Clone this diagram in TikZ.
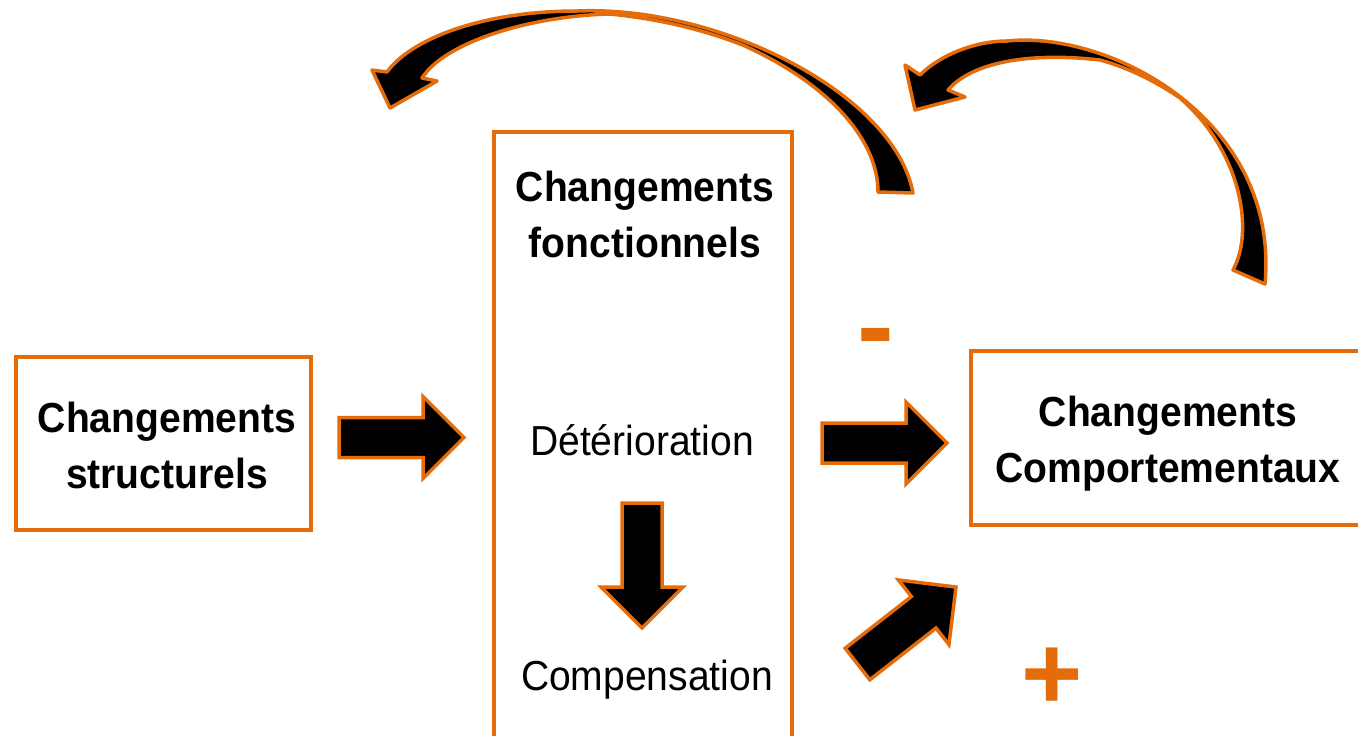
\documentclass[tikz,border=0pt]{standalone}
\usepackage{fontspec}
\setmainfont{Liberation Sans}[FakeStretch=0.93]
\newfontfamily\signfont{Liberation Sans}
\definecolor{orng}{HTML}{E46C0A}
\tikzset{
  box/.style={draw=orng, line width=4.5pt, inner sep=0pt},
  lbl/.style={font=\fontsize{42}{56}\selectfont\bfseries, align=center, anchor=base, inner sep=0pt},
  plainlbl/.style={font=\fontsize{42}{56}\selectfont, anchor=base, inner sep=0pt},
  blk/.style={draw=orng, fill=black, line width=3.5pt, line join=miter},
  curv/.style={draw=orng, fill=black, line width=3.5pt, line join=round},
  sign/.style={text=orng, anchor=base, inner sep=0pt},
  blockarrow/.pic={\path[blk] (0,-20) -- (84,-20) -- (84,-41) -- (125,0) -- (84,41) -- (84,20) -- (0,20) -- cycle;}
}
\begin{document}
\begin{tikzpicture}[x=1pt,y=-1pt]
\useasboundingbox (0,0) rectangle (1358,736);
\clip (0,0) rectangle (1358,736);
% boxes
\node[box, minimum width=295, minimum height=173] (struct) at (163.5,443.5) {};
\node[box, minimum width=298, minimum height=628] (fonc) at (643,446) {};
\node[box, minimum width=395, minimum height=174] (comp) at (1168.5,438) {};
% texts (base = baseline of last line)
\node[lbl] (tstruct) at (167,488) {Changements\\structurels};
\node[lbl] (tfonc) at (645,257) {Changements\\fonctionnels};
\node[plainlbl] (tdet) at (642,455) {Détérioration};
\node[plainlbl] (tcomp) at (647,690) {Compensation};
\node[lbl] (tbeh) at (1168,482) {Changements\\Comportementaux};
% block arrows
\coordinate (a1) at (339,437.5);
\coordinate (a2) at (822,443);
\coordinate (a3) at (642,503);
\coordinate (a4) at (857.5,664);
\pic at (a1) {blockarrow};
\pic at (a2) {blockarrow};
\pic[rotate=-90] at (a3) {blockarrow};
\pic[rotate=38] at (a4) {blockarrow};
% curved arrow left
\path[curv] (913,193) .. controls (895,95) and (720,5) .. (577,11)
  .. controls (480,11) and (410,40) .. (387,72)
  -- (372,70) -- (390,108) -- (437,81) -- (422,78)
  .. controls (445,42) and (530,16) .. (610,14)
  .. controls (660,19) and (705,30) .. (745,46)
  .. controls (830,85) and (878,140) .. (878,192)
  -- cycle;
% curved arrow right
\path[curv] (1265,284) .. controls (1280,120) and (1110,30) .. (1007,41)
  .. controls (975,41) and (940,55) .. (920,75)
  -- (905,65) -- (915,110) -- (965,97) -- (948,90)
  .. controls (972,62) and (1030,52) .. (1100,60)
  .. controls (1130,68) and (1160,84) .. (1180,98)
  .. controls (1240,150) and (1255,230) .. (1233,270)
  -- cycle;
% signs
\node[sign, font=\signfont\fontsize{110}{110}\selectfont\bfseries] (minus) at (876,363) {-};
\node[sign, font=\signfont\fontsize{105}{105}\selectfont\bfseries] (plus) at (1052.5,709) {+};
\end{tikzpicture}
\end{document}
